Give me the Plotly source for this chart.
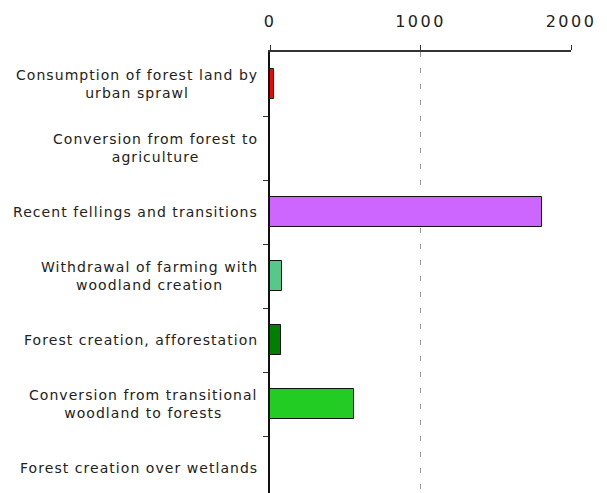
import plotly.graph_objects as go

# Forest land-cover change flows
categories = [
    "Consumption of forest land by<br>urban sprawl",
    "Conversion from forest to<br>agriculture",
    "Recent fellings and transitions",
    "Withdrawal of farming with<br>woodland creation",
    "Forest creation, afforestation",
    "Conversion from transitional<br>woodland to forests",
    "Forest creation over wetlands",
]
values = [28, 0, 1810, 80, 70, 560, 0]
colors = ["#FF0000", "#808080", "#CC66FF", "#55C98A", "#008000", "#22CC22", "#808080"]
x_ticks = [0, 1000, 2000]

font_family = "DejaVu Sans, Verdana, sans-serif"


def spaced(text, px):
    """Wrap each line of a label in a letter-spaced span."""
    return "<br>".join(
        f"<span style='letter-spacing:{px}px'>{line}</span>" for line in text.split("<br>")
    )


fig = go.Figure()
fig.add_trace(go.Bar(
    y=list(range(len(categories))),
    x=values,
    orientation="h",
    width=0.47,
    marker=dict(color=colors, line=dict(color="#111111", width=1)),
    hoverinfo="x",
))

# Category labels, centred line by line to the left of the axis
for i, label in enumerate(categories):
    fig.add_annotation(
        x=0, xref="paper", y=i, yref="y",
        text=spaced(label, 1.05), showarrow=False,
        xanchor="right", yanchor="middle", align="center",
        xshift=-10,
        font=dict(family=font_family, size=14, color="#222222"),
    )

fig.update_layout(
    width=607, height=493,
    margin=dict(l=270, r=36, t=52, b=0),
    paper_bgcolor="white", plot_bgcolor="white",
    showlegend=False,
    bargap=0,
    xaxis=dict(
        side="top", range=[0, 2000],
        tickvals=x_ticks, ticktext=[spaced(str(v), 2.5) for v in x_ticks],
        showline=True, linecolor="#333333", linewidth=1.5,
        ticks="outside", ticklen=5, tickcolor="#333333",
        ticklabelstandoff=12,
        tickfont=dict(family=font_family, size=16, color="#222222"),
        showgrid=True, gridcolor="#999999", griddash="5px,11px", gridwidth=1,
        zeroline=False,
    ),
    yaxis=dict(
        range=[6.39, -0.5],
        tickvals=[i + 0.5 for i in range(len(categories) - 1)],
        showticklabels=False,
        showline=True, linecolor="#111111", linewidth=1.5,
        ticks="outside", ticklen=5, tickcolor="#333333",
        showgrid=False, zeroline=False,
    ),
)

fig.write_html("out.html")
